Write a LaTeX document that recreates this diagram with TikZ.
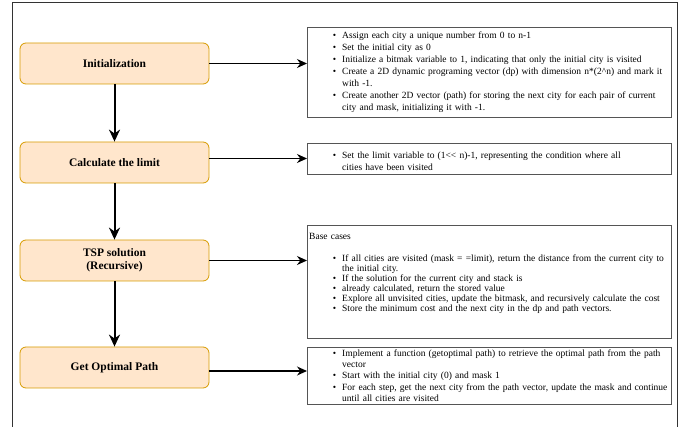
\documentclass[tikz,border=0pt]{standalone}
\usepackage{fontspec}
\setmainfont{Liberation Serif}
\usepackage{enumitem}
\usetikzlibrary{arrows.meta,positioning}
\definecolor{stepfill}{HTML}{FFE6CC}
\definecolor{stepline}{HTML}{D79B00}
\definecolor{noteline}{HTML}{555555}
\definecolor{frameline}{HTML}{333333}
\setlist[itemize]{leftmargin=33pt,labelsep=6pt,itemsep=0pt,parsep=0pt,topsep=0pt,partopsep=0pt,label=\textbullet}

\begin{document}
\begin{tikzpicture}[x=1pt,y=-1pt,
  stepbox/.style={draw=stepline,fill=stepfill,rounded corners=6pt,line width=0.8pt,
    minimum width=189pt,minimum height=41pt,align=center,
    font=\bfseries\fontsize{11.5}{13}\selectfont},
  notebox/.style={draw=noteline,line width=0.8pt,minimum width=364pt,anchor=north west,inner sep=0pt},
  notetext/.style={inner sep=0pt,text width=362pt,align=left},
  flowarrow/.style={-{Stealth[length=12pt,width=11pt]},line width=2pt},
  notearrow/.style={-{Stealth[length=10pt,width=9pt]},line width=1.4pt}]
  \useasboundingbox (0,0) rectangle (678,427);
  % outer frame runs past the bottom of the page
  \draw[frameline,line width=0.8pt] (12,2) rectangle (677,440);
  % steps
  \node[stepbox] (init) at (114.5,63.5) {Initialization};
  \node[stepbox] (limit) at (114.5,162.5) {Calculate the limit};
  \node[stepbox] (tsp) at (114.5,260.5) {TSP solution\\(Recursive)};
  \node[stepbox] (optpath) at (114.5,367.5) {Get Optimal Path};
  % note frames
  \node[notebox,minimum height=90pt] (initnote) at (307,27) {};
  \node[notebox,minimum height=31pt] (limitnote) at (307,143) {};
  \node[notebox,minimum height=113pt] (tspnote) at (307,225) {};
  \node[notebox,minimum height=57pt] (pathnote) at (307,347) {};
  % note texts
  \node[notetext,font=\fontsize{9.5}{12}\selectfont,below right=-1pt and 2pt of initnote.north west] (initlist) {%
    \begin{itemize}
      \item Assign each city a unique number from 0 to n-1
      \item Set the initial city as 0
      \item Initialize a bitmak variable to 1, indicating that only the initial city is visited
      \item Create a 2D dynamic programing vector (dp) with dimension n*(2\textasciicircum n) and mark it\newline with -1.
      \item Create another 2D vector (path) for storing the next city for each pair of current\newline city and mask, initializing it with -1.
    \end{itemize}};
  \node[notetext,font=\fontsize{9.5}{12}\selectfont,below right=3pt and 2pt of limitnote.north west] (limitlist) {%
    \begin{itemize}
      \item Set the limit variable to (1<\kern0pt< n)-1, representing the condition where all\newline cities have been visited
    \end{itemize}};
  \node[notetext,font=\fontsize{9.5}{10}\selectfont,below right=8pt and 2pt of tspnote.north west] (tsplist) {%
    Base cases\par\vspace{12pt}
    \begin{itemize}
      \item If all cities are visited (mask = =limit), return the distance from the current city to\newline the initial city.
      \item If the solution for the current city and stack is
      \item already calculated, return the stored value
      \item Explore all unvisited cities, update the bitmask, and recursively calculate the cost
      \item Store the minimum cost and the next city in the dp and path vectors.
    \end{itemize}};
  \node[notetext,font=\fontsize{9.5}{11.25}\selectfont,below right=-2pt and 2pt of pathnote.north west] (pathlist) {%
    \begin{itemize}
      \item Implement a function (getoptimal path) to retrieve the optimal path from the path\newline vector
      \item Start with the initial city (0) and mask 1
      \item For each step, get the next city from the path vector, update the mask and continue\newline until all cities are visited
    \end{itemize}};
  % connectors
  \draw[flowarrow] (init) -- (limit);
  \draw[flowarrow] (limit) -- (tsp);
  \draw[flowarrow] (tsp) -- (optpath);
  \draw[notearrow] (init.east) -- (init.east -| initnote.west);
  \draw[notearrow] ([yshift=4pt]limit.east) -- ([yshift=4pt]limit.east -| limitnote.west);
  \draw[notearrow] (tsp.east) -- (tsp.east -| tspnote.west);
  \draw[notearrow] ([yshift=-3.5pt]optpath.east) -- ([yshift=-3.5pt]optpath.east -| pathnote.west);
\end{tikzpicture}
\end{document}
